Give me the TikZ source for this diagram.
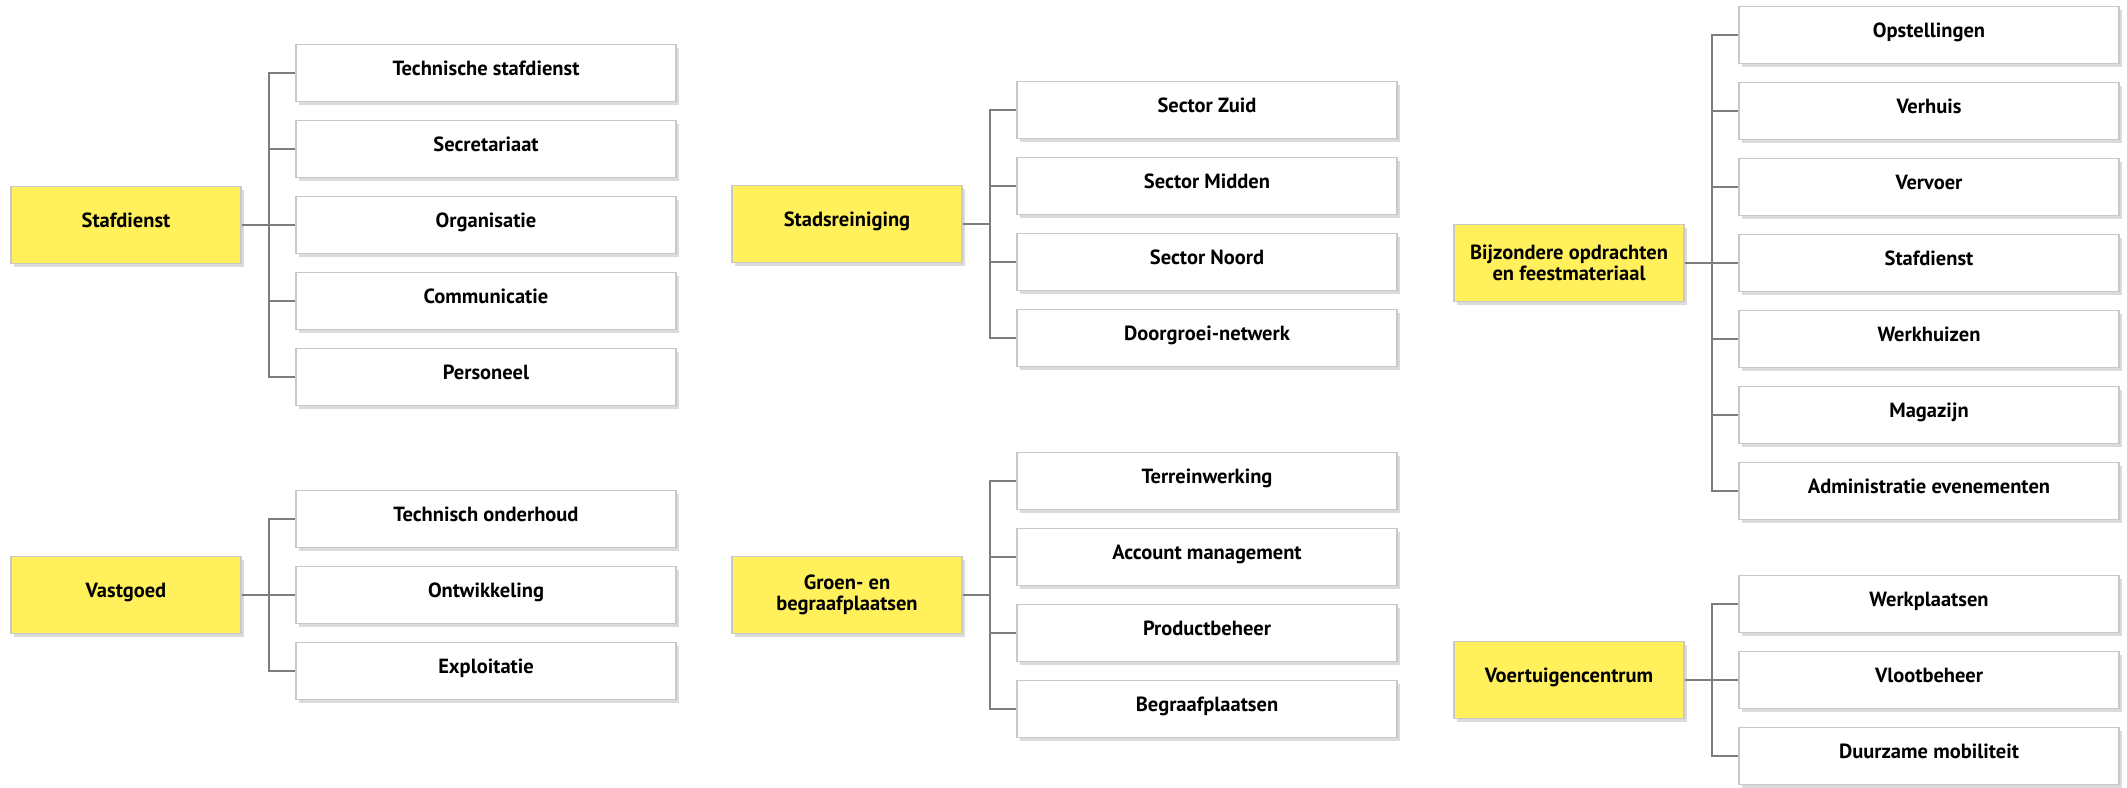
\documentclass[tikz,border=0pt]{standalone}
\usepackage{fontspec}
\setmainfont{PT Sans}
\usetikzlibrary{shadows}
\definecolor{boxyellow}{RGB}{255,240,92}
\definecolor{boxline}{RGB}{200,200,200}
\definecolor{connline}{RGB}{125,125,125}
\tikzset{
  unit/.style={draw=boxline, line width=1.2pt, fill=white, minimum width=380pt, minimum height=57pt,
    font=\fontsize{20.5}{21}\selectfont\bfseries, inner sep=2pt, text height=14.5pt, text depth=10pt,
    drop shadow={shadow xshift=2.5pt, shadow yshift=-3pt, fill=black!28}},
  dept/.style={unit, fill=boxyellow, minimum width=230pt, minimum height=77pt, align=center},
  twoline/.style={text height=, text depth=}
}
\begin{document}
\begin{tikzpicture}[x=1pt, y=-1pt, conn/.style={draw=connline, line width=1.6pt}]
                \useasboundingbox (0,0) rectangle (2127,787);
                \node[dept](STAF) at (126,225) {Stafdienst};
                \node[unit](TECH) at (486,73) {Technische stafdienst};
                \node[unit](SECR) at (486,149) {Secretariaat};
                \node[unit](ORGA) at (486,225) {Organisatie};
                \node[unit](COMM) at (486,301) {Communicatie};
                \node[unit](PERS) at (486,377) {Personeel};
                \coordinate (STAFJ) at (269,225);
                \node[dept](VAST) at (126,595) {Vastgoed};
                \node[unit](TOND) at (486,519) {Technisch onderhoud};
                \node[unit](ONTW) at (486,595) {Ontwikkeling};
                \node[unit](EXPL) at (486,671) {Exploitatie};
                \coordinate (VASTJ) at (269,595);
                \node[dept](STAD) at (847,224) {Stadsreiniging};
                \node[unit](ZUID) at (1207,110) {Sector Zuid};
                \node[unit](MIDD) at (1207,186) {Sector Midden};
                \node[unit](NOOR) at (1207,262) {Sector Noord};
                \node[unit](DOOR) at (1207,338) {Doorgroei-netwerk};
                \coordinate (STADJ) at (990,224);
                \node[dept,twoline](GROE) at (847,595) {Groen- en\\begraafplaatsen};
                \node[unit](TERR) at (1207,481) {Terreinwerking};
                \node[unit](ACCO) at (1207,557) {Account management};
                \node[unit](PROD) at (1207,633) {Productbeheer};
                \node[unit](BEGR) at (1207,709) {Begraafplaatsen};
                \coordinate (GROEJ) at (990,595);
                \node[dept,twoline](BIJZ) at (1569,263) {Bijzondere opdrachten\\en feestmateriaal};
                \node[unit](OPST) at (1929,35) {Opstellingen};
                \node[unit](VERH) at (1929,111) {Verhuis};
                \node[unit](VERV) at (1929,187) {Vervoer};
                \node[unit](BSTA) at (1929,263) {Stafdienst};
                \node[unit](WERK) at (1929,339) {Werkhuizen};
                \node[unit](MAGA) at (1929,415) {Magazijn};
                \node[unit](ADMI) at (1929,491) {Administratie evenementen};
                \coordinate (BIJZJ) at (1712,263);
                \node[dept](VOER) at (1569,680) {Voertuigencentrum};
                \node[unit](WPLA) at (1929,604) {Werkplaatsen};
                \node[unit](VLOO) at (1929,680) {Vlootbeheer};
                \node[unit](DUUR) at (1929,756) {Duurzame mobiliteit};
                \coordinate (VOERJ) at (1712,680);
                \foreach \from/\list in {STAF/{TECH,SECR,ORGA,COMM,PERS}, VAST/{TOND,ONTW,EXPL},
                    STAD/{ZUID,MIDD,NOOR,DOOR}, GROE/{TERR,ACCO,PROD,BEGR},
                    BIJZ/{OPST,VERH,VERV,BSTA,WERK,MAGA,ADMI}, VOER/{WPLA,VLOO,DUUR}}{
                    \draw[conn] (\from) -- (\from J);
                    \foreach \to in \list
                        \draw[conn] (\from J) |- (\to);
                }
            \end{tikzpicture}
\end{document}
